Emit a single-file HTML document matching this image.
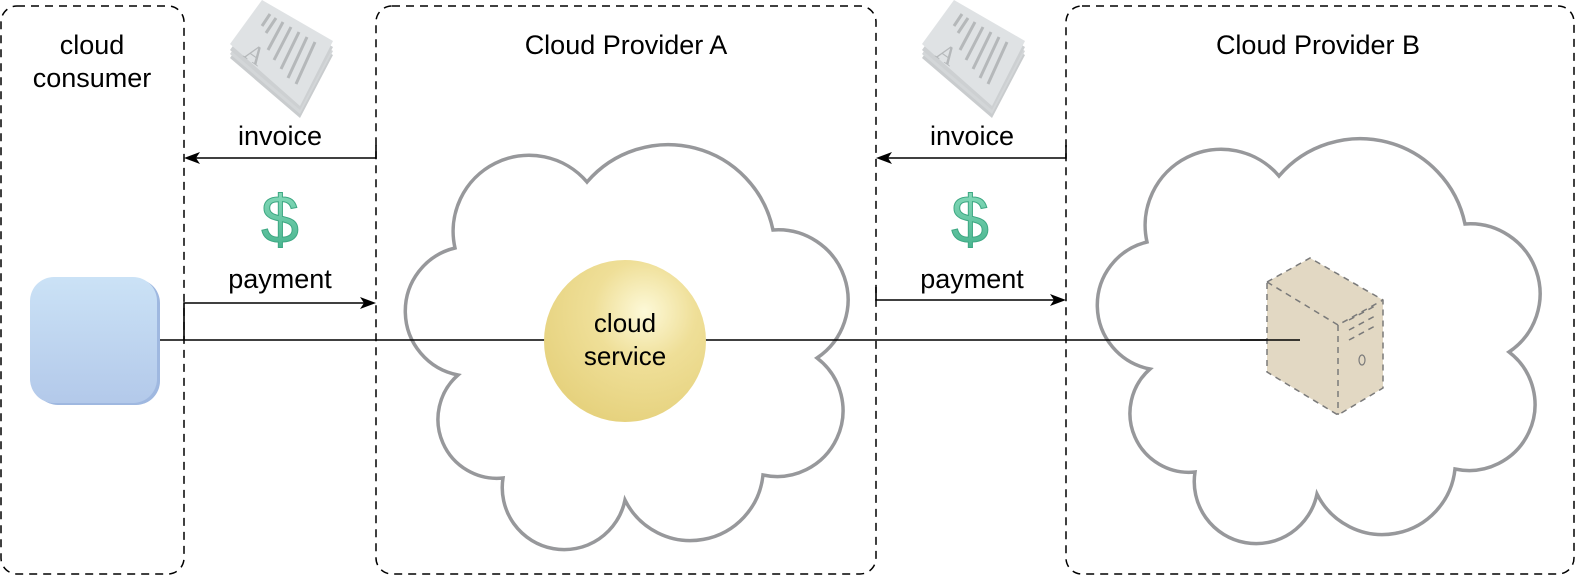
<!DOCTYPE html>
<html><head><meta charset="utf-8"><style>
html,body{margin:0;padding:0;background:#fff;}
svg{display:block;font-family:"Liberation Sans",Arial,sans-serif;}
</style></head><body>
<svg width="1578" height="580" viewBox="0 0 1578 580" xmlns="http://www.w3.org/2000/svg">
<defs>
<radialGradient id="gs" cx="0.62" cy="0.32" r="0.7">
<stop offset="0" stop-color="#fdf9d8"/><stop offset="0.45" stop-color="#efdf98"/><stop offset="1" stop-color="#e6d27e"/>
</radialGradient>
<linearGradient id="gb" x1="0" y1="0" x2="0" y2="1">
<stop offset="0" stop-color="#cbe2f6"/><stop offset="1" stop-color="#b3c9ea"/>
</linearGradient>
<linearGradient id="gd" x1="0" y1="0" x2="0" y2="1">
<stop offset="0" stop-color="#8fe0c0"/><stop offset="1" stop-color="#3fae88"/>
</linearGradient>
<g id="inv">
<polygon points="230,58 262,12 333,55 300,118" fill="#c9ccce"/>
<polygon points="230,54 262,8 333,51 300,114" fill="#d3d6d8"/>
<polygon points="230,50 262,4 333,47 300,110" fill="#cdd0d2"/>
<polygon points="230,44 262,0 333,41 300,106" fill="#dfe2e4"/>
<g stroke="#b5b8ba" stroke-width="3">
<line x1="270" y1="14" x2="262" y2="26"/><line x1="276" y1="18" x2="266" y2="33"/>
<line x1="283" y1="22" x2="268" y2="50"/><line x1="291" y1="27" x2="274" y2="60"/>
<line x1="299" y1="32" x2="281" y2="69"/><line x1="307" y1="37" x2="288" y2="78"/>
<line x1="315" y1="42" x2="296" y2="84"/>
</g>
<text x="248" y="62" font-size="26" fill="#b5b8ba" font-family="Liberation Serif,serif" transform="rotate(35 255 50)">A</text>
</g>
<path id="cl" d="M587,182 A107,107 0 0 1 773,230 A70,70 0 0 1 817,358 A66,66 0 0 1 763,475 A73,73 0 0 1 625,500 A62,62 0 0 1 503,478 A59,59 0 0 1 458,375 A65,65 0 0 1 455,248 A76,76 0 0 1 587,182 Z" fill="#fff" stroke="#97989b" stroke-width="3.5"/>
</defs>

<g fill="none" stroke="#000" stroke-width="1.5" stroke-dasharray="8,6">
<rect x="1" y="6" width="183" height="568" rx="16"/>
<rect x="376" y="6" width="500" height="568" rx="16"/>
<rect x="1066" y="6" width="508" height="568" rx="16"/>
</g>

<use href="#cl"/>
<use href="#cl" transform="translate(692,-6)"/>

<text x="92" y="54" font-size="27" text-anchor="middle">cloud</text>
<text x="92" y="87" font-size="27" text-anchor="middle">consumer</text>
<text x="626" y="54" font-size="27" text-anchor="middle">Cloud Provider A</text>
<text x="1318" y="54" font-size="27" text-anchor="middle">Cloud Provider B</text>

<use href="#inv"/>
<use href="#inv" transform="translate(692,0)"/>

<text x="280" y="145" font-size="27" text-anchor="middle">invoice</text>
<text x="972" y="145" font-size="27" text-anchor="middle">invoice</text>
<text x="280" y="288" font-size="27" text-anchor="middle">payment</text>
<text x="972" y="288" font-size="27" text-anchor="middle">payment</text>
<text x="280" y="243" font-size="68" text-anchor="middle" fill="url(#gd)" stroke="#3ea883" stroke-width="1">$</text>
<text x="970" y="243" font-size="68" text-anchor="middle" fill="url(#gd)" stroke="#3ea883" stroke-width="1">$</text>

<g stroke="#000" stroke-width="1.6" fill="none">
<polyline points="376,145 376,158 190,158"/>
<polyline points="184,340 184,303 370,303"/>
<polyline points="1066,145 1066,158 880,158"/>
<polyline points="876,287 876,300 1060,300"/>
<line x1="157" y1="340" x2="1292" y2="340"/>
</g>
<g fill="#000">
<polygon points="184,158 200,152 196,158 200,164"/>
<polygon points="376,303 360,297 364,303 360,309"/>
<polygon points="876,158 892,152 888,158 892,164"/>
<polygon points="1066,300 1050,294 1054,300 1050,306"/>
</g>

<rect x="34" y="279" width="126" height="126" rx="24" fill="#9fb8e0"/>
<rect x="30" y="277" width="127" height="126" rx="24" fill="url(#gb)"/>

<circle cx="625" cy="341" r="81" fill="url(#gs)"/>
<text x="625" y="332" font-size="26" text-anchor="middle">cloud</text>
<text x="625" y="365" font-size="26" text-anchor="middle">service</text>

<g stroke="#7a7a7a" stroke-width="1.5" stroke-dasharray="6,5">
<polygon points="1267,282 1310,258 1383,300 1383,388 1338,415 1267,372" fill="#e2d8c3"/>
<polyline points="1267,282 1338,325 1383,300" fill="none"/>
<line x1="1338" y1="325" x2="1338" y2="415"/>
<line x1="1349" y1="320" x2="1375" y2="306"/>
<line x1="1349" y1="330" x2="1375" y2="316"/>
<line x1="1349" y1="340" x2="1375" y2="326"/>
</g>
<line x1="1240" y1="340" x2="1300" y2="340" stroke="#000" stroke-width="1.6"/>
<ellipse cx="1362" cy="360" rx="3" ry="5" fill="none" stroke="#7a7a7a" stroke-width="1.2"/>
</svg>
</body></html>
